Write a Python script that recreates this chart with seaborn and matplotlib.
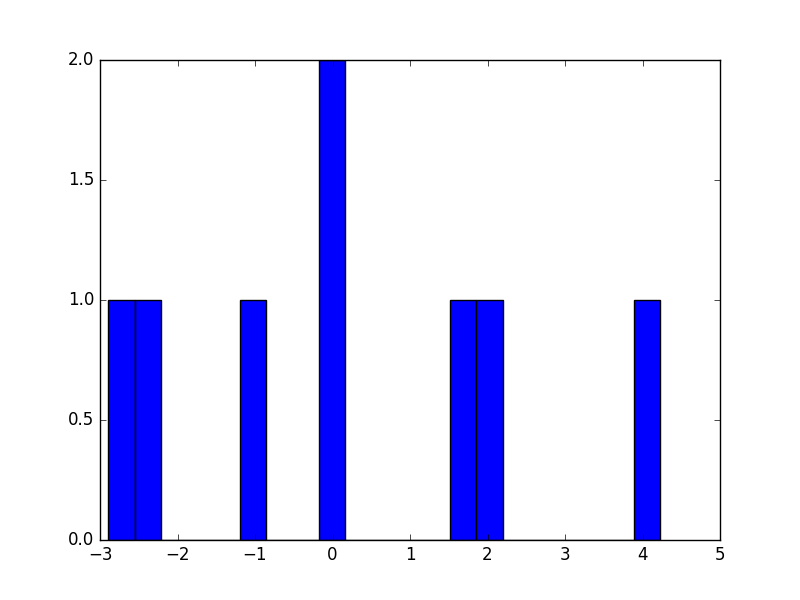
import matplotlib
matplotlib.use("Agg")
import matplotlib.pyplot as plt
import seaborn as sns
import numpy as np

# sample values (8 samples, 21 bins)
values = [-2.893, -2.40, -1.00, -0.05, 0.05, 1.70, 2.00, 4.230]
n_bins = 21

plt.style.use("classic")
plt.rcParams["font.family"] = ["DejaVu Sans"]

fig, ax = plt.subplots(figsize=(8, 6), dpi=100)
sns.histplot(x=values, bins=n_bins, color="blue", edgecolor="black",
             linewidth=1.0, alpha=1.0, ax=ax)
ax.set_xlabel("")
ax.set_ylabel("")
ax.set_xlim(-3, 5)
ax.set_ylim(0, 2)
ax.set_xticks(np.arange(-3, 6, 1))
ax.set_yticks(np.arange(0, 2.01, 0.5))
fig.savefig("out.png", dpi=100)
